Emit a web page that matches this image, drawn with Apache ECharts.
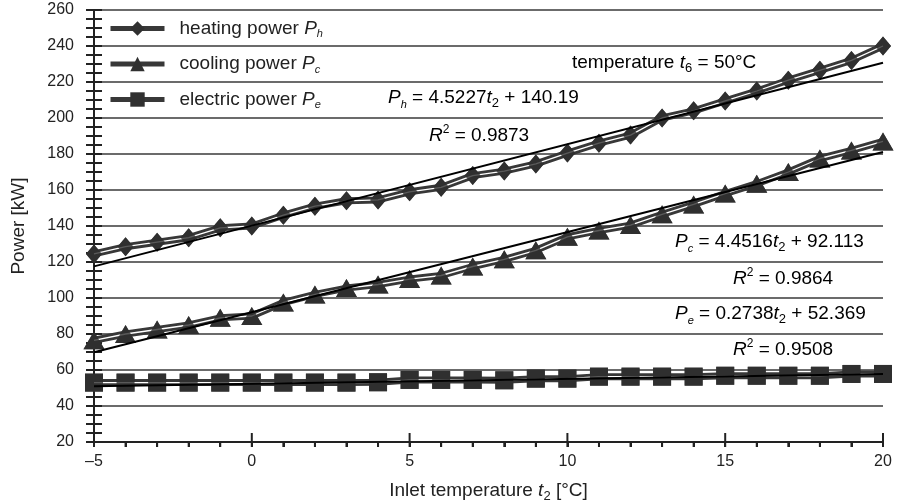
<!DOCTYPE html>
<html>
<head>
<meta charset="utf-8">
<script src="https://cdn.jsdelivr.net/npm/echarts@6/dist/echarts.min.js"></script>
<style>
html, body { margin: 0; padding: 0; background: #fff; }
#chart { width: 897px; height: 503px; }
</style>
</head>
<body>
<div id="chart"></div>
<script>
// inlet temperature t2 [°C]
var temps = [-5, -4, -3, -2, -1, 0, 1, 2, 3, 4, 5, 6, 7, 8, 9, 10, 11, 12, 13, 14, 15, 16, 17, 18, 19, 20];
// power [kW]
var heating = [124.5, 128.5, 131, 133.5, 139, 140, 146, 151, 154, 154.5, 159, 161.5, 168, 170.5, 174.5, 180.5, 186, 190.5, 200, 204, 209.5, 215, 221, 226.5, 232, 240];
var cooling = [76.5, 80, 82.5, 85, 89, 90, 97.5, 102, 105.5, 107.5, 110.5, 112.5, 117.5, 121.5, 126.5, 134, 137.5, 140.5, 146.5, 152, 158, 163.5, 170, 177.5, 182, 187];
var electric = [53, 53, 53, 53, 53, 53, 53, 53, 53, 53.2, 54.5, 54.5, 54.5, 54.3, 55.2, 55.2, 56.3, 56.3, 56.3, 56.3, 56.8, 56.8, 56.8, 56.8, 57.8, 57.8];

var names = ['heating power', 'cooling power', 'electric power'];
var subs = ['h', 'c', 'e'];
var symbols = ['diamond', 'triangle', 'rect'];
var symbolSizes = [[16, 19], [21, 18], [18, 18]];
// linear trend lines shown on the chart
var slopes = [4.5227, 4.4516, 0.2738];
var intercepts = [140.19, 92.113, 52.369];
var r2 = ['0.9873', '0.9864', '0.9508'];
// x axis ticks: one per degree, long ones every 5
var xTicks = temps;
var yMin = 20, yMax = 260;

var FONT = '"Liberation Sans", Arial, sans-serif';
var INK = '#222';

var chart = echarts.init(document.getElementById('chart'));

function pairs(vals) {
    return temps.map(function (t, i) { return [t, vals[i]]; });
}
function trend(k) {
    var a = temps[0], b = temps[temps.length - 1];
    return [[a, slopes[k] * a + intercepts[k]], [b, slopes[k] * b + intercepts[k]]];
}

var richText = {
    n: { fontFamily: FONT, fontSize: 19, lineHeight: 24, color: INK },
    i: { fontFamily: FONT, fontSize: 19, lineHeight: 24, color: INK, fontStyle: 'italic' },
    s: { fontFamily: FONT, fontSize: 11, lineHeight: 12, color: INK, fontStyle: 'italic', verticalAlign: 'bottom' },
    d: { fontFamily: FONT, fontSize: 13, lineHeight: 13, color: INK, verticalAlign: 'bottom' },
    u: { fontFamily: FONT, fontSize: 12, lineHeight: 10, color: INK, verticalAlign: 'top' }
};

var allData = [heating, cooling, electric];
var series = [];
allData.forEach(function (vals, k) {
    series.push({
        name: names[k], type: 'line', data: pairs(vals), z: 2,
        symbol: symbols[k], symbolSize: symbolSizes[k],
        itemStyle: { color: '#303030' },
        lineStyle: { color: '#383838', width: 7 }
    });
    series.push({
        type: 'line', data: pairs(vals), z: 3, symbol: 'none', silent: true,
        lineStyle: { color: '#fff', width: 1.3 }
    });
    series.push({
        type: 'scatter', data: pairs(vals), z: 4, silent: true,
        symbol: symbols[k], symbolSize: symbolSizes[k],
        itemStyle: { color: '#303030' }
    });
    series.push({
        type: 'line', data: trend(k), z: 5, symbol: 'none', silent: true,
        lineStyle: { color: '#000', width: 2 }
    });
});

function eq(k) {
    return '{i|P}{s|' + subs[k] + '}{n| = ' + slopes[k] + '}{i|t}{d|2}{n| + ' + intercepts[k] + '}';
}
function rsq(k) {
    return '{i|R}{u|2}{n| = ' + r2[k] + '}';
}
function note(text, x, y) {
    return {
        type: 'text', x: x, y: y, z: 20,
        style: { text: text, rich: richText, align: 'left', verticalAlign: 'middle' }
    };
}

var notes = [
    note('{n|temperature }{i|t}{d|6}{n| = 50°C}', 572, 63),
    note(eq(0), 388, 98),
    note(rsq(0), 429, 136),
    note(eq(1), 675, 242),
    note(rsq(1), 733, 279),
    note(eq(2), 675, 314),
    note(rsq(2), 733, 350)
];

var option = {
    animation: false,
    backgroundColor: '#fff',
    grid: { left: 94, right: 14, top: 10, bottom: 61, outerBoundsMode: 'none', containLabel: false },
    legend: {
        data: names,
        orient: 'vertical',
        left: 108, top: 19,
        padding: 0,
        itemWidth: 54, itemHeight: 18, itemGap: 15,
        lineStyle: { width: 5 },
        formatter: function (name) {
            var k = names.indexOf(name);
            return '{p|' + name + ' }{i|P}{s|' + subs[k] + '}';
        },
        textStyle: {
            fontFamily: FONT, color: INK,
            rich: {
                p: { fontFamily: FONT, fontSize: 19, lineHeight: 22, color: INK, padding: [0, 0, 0, 10] },
                i: { fontFamily: FONT, fontSize: 19, lineHeight: 22, color: INK, fontStyle: 'italic' },
                s: { fontFamily: FONT, fontSize: 11, lineHeight: 11, color: INK, fontStyle: 'italic', verticalAlign: 'bottom' }
            }
        }
    },
    xAxis: {
        type: 'value', min: -5, max: 20, interval: 5,
        name: '{n|Inlet temperature }{i|t}{d|2}{n| [°C]}',
        nameLocation: 'middle', nameGap: 37,
        nameTextStyle: { rich: richText },
        axisLine: { show: true, lineStyle: { color: INK, width: 2 } },
        axisTick: { show: true, inside: false, length: 5, lineStyle: { color: INK, width: 2 } },
        minorTick: { show: true, splitNumber: 5, length: 5, lineStyle: { color: INK, width: 2 } },
        splitLine: { show: false },
        axisLabel: {
            fontFamily: FONT, fontSize: 16, color: INK, margin: 12,
            formatter: function (v) { return v < 0 ? '\u2013' + Math.abs(v) : String(v); }
        }
    },
    yAxis: [{
        type: 'value', min: yMin, max: yMax, interval: 20,
        name: 'Power [kW]',
        nameLocation: 'middle', nameGap: 66,
        nameTextStyle: { fontFamily: FONT, fontSize: 19, color: INK },
        axisLine: { show: true, onZero: false, lineStyle: { color: INK, width: 2 } },
        axisTick: { show: true, inside: false, length: 8, lineStyle: { color: INK, width: 2 } },
        minorTick: { show: true, splitNumber: 4, length: 8, lineStyle: { color: INK, width: 2 } },
        splitLine: { show: true, lineStyle: { color: '#3a3a3a', width: 1.6 } },
        axisLabel: { fontFamily: FONT, fontSize: 16, color: INK, margin: 20 }
    }, {
        type: 'value', min: yMin, max: yMax, interval: 20, position: 'left',
        axisLine: { show: false, onZero: false },
        axisTick: { show: true, inside: true, length: 8, lineStyle: { color: INK, width: 2 } },
        minorTick: { show: true, splitNumber: 4, length: 8, lineStyle: { color: INK, width: 2 } },
        splitLine: { show: false },
        axisLabel: { show: false }
    }],
    series: series,
    graphic: notes
};

chart.setOption(option);

// bottom axis tick marks, positioned through the chart's own x scale
var tickMarks = xTicks.map(function (t) {
    var p = chart.convertToPixel({ gridIndex: 0 }, [t, yMin]);
    var major = t % 5 === 0;
    return {
        type: 'line', z: 100, silent: true,
        shape: { x1: p[0], y1: p[1] - (major ? 9 : 0), x2: p[0], y2: p[1] + 5 },
        style: { stroke: INK, lineWidth: 2 }
    };
});
chart.setOption({ graphic: notes.concat(tickMarks) });
</script>
</body>
</html>
